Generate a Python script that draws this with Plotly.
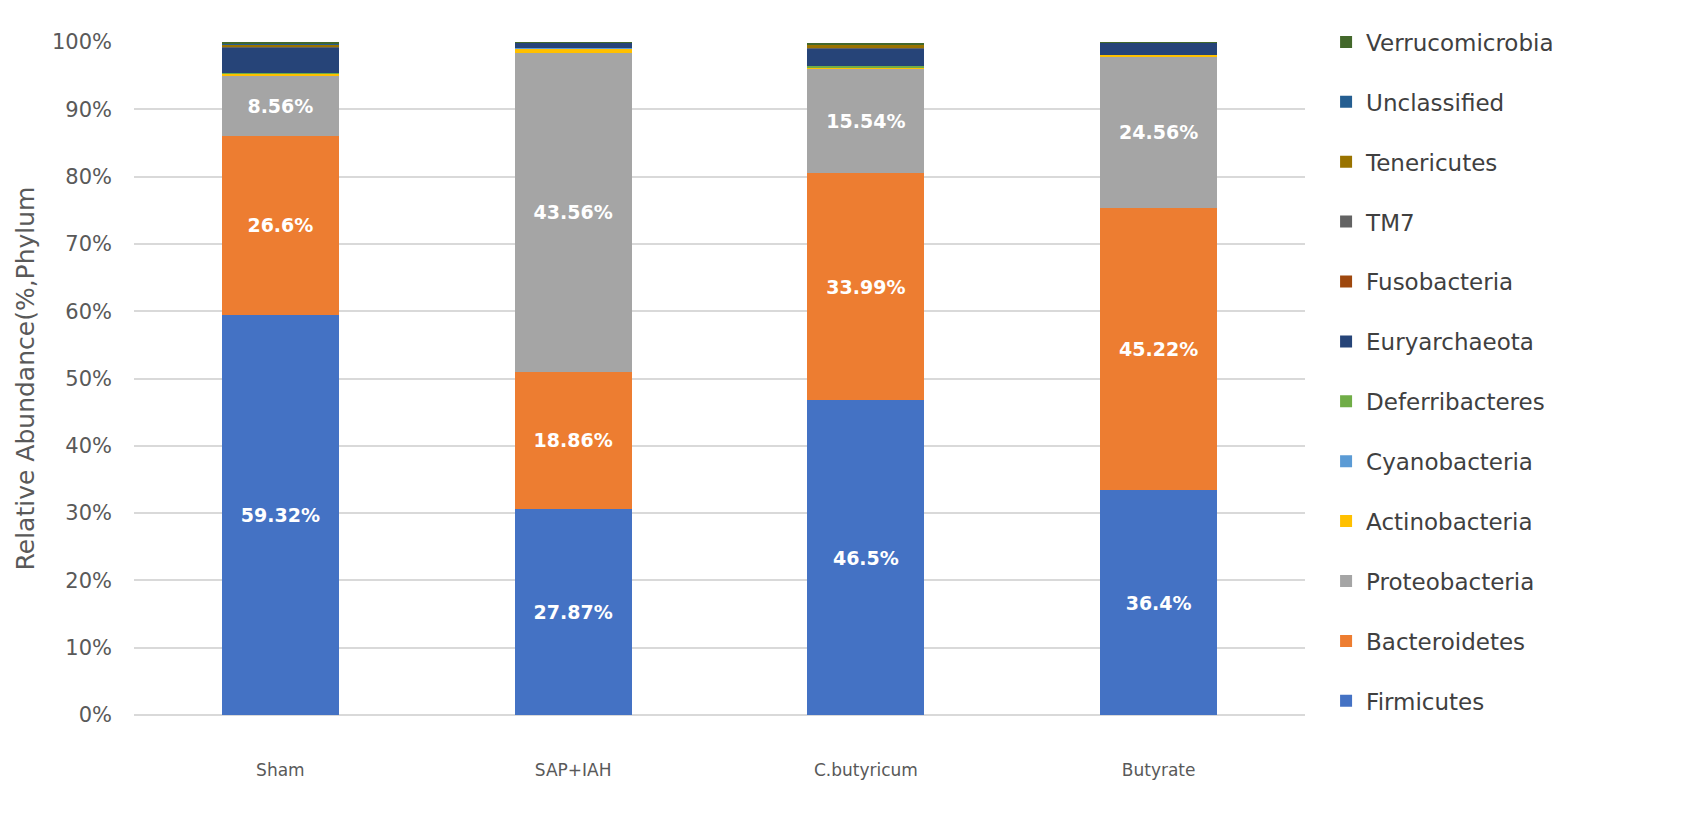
import plotly.graph_objects as go

# === KATEGORIEN ===
groups = ["Sham", "SAP+IAH", "C.butyricum", "Butyrate"]

# === PHYLA (von unten nach oben gestapelt) ===
phyla = ["Firmicutes", "Bacteroidetes", "Proteobacteria", "Actinobacteria",
         "Cyanobacteria", "Deferribacteres", "Euryarchaeota", "Fusobacteria",
         "TM7", "Tenericutes", "Unclassified", "Verrucomicrobia"]

# === WERTE (%) je Phylum, Reihenfolge wie groups ===
firmicutes = [59.4, 30.6, 46.8, 33.4]
bacteroidetes = [26.7, 20.4, 33.7, 42.0]
proteobacteria = [8.8, 47.4, 15.6, 22.4]
actinobacteria = [0.4, 0.7, 0.1, 0.3]
cyanobacteria = [0.05, 0.02, 0.05, 0.02]
deferribacteres = [0.1, 0.02, 0.15, 0.02]
euryarchaeota = [3.7, 0.75, 2.6, 1.75]
fusobacteria = [0.05, 0.01, 0.05, 0.01]
tm7 = [0.05, 0.01, 0.05, 0.01]
tenericutes = [0.4, 0.02, 0.5, 0.02]
unclassified = [0.05, 0.02, 0.05, 0.02]
verrucomicrobia = [0.3, 0.03, 0.15, 0.1]

# === BESCHRIFTUNGEN ===
firmicutes_lbl = ["59.32%", "27.87%", "46.5%", "36.4%"]
bacteroidetes_lbl = ["26.6%", "18.86%", "33.99%", "45.22%"]
proteobacteria_lbl = ["8.56%", "43.56%", "15.54%", "24.56%"]

values = [firmicutes, bacteroidetes, proteobacteria, actinobacteria,
          cyanobacteria, deferribacteres, euryarchaeota, fusobacteria,
          tm7, tenericutes, unclassified, verrucomicrobia]
labels = [firmicutes_lbl, bacteroidetes_lbl, proteobacteria_lbl] + [None] * 9

colors = ["#4472C4", "#ED7D31", "#A5A5A5", "#FFC000", "#5B9BD5", "#70AD47",
          "#264478", "#9E480E", "#636363", "#997300", "#255E91", "#43682B"]

FONT = "DejaVu Sans"

fig = go.Figure()
for i, (name, vals, lbl, col) in enumerate(zip(phyla, values, labels, colors)):
    fig.add_trace(go.Bar(
        x=groups,
        y=vals,
        name=name,
        legendgroup=name,
        legendrank=len(phyla) - i,  # oberste Schicht zuerst in der Legende
        marker=dict(color=col, line=dict(width=0)),
        text=lbl,
        texttemplate="%{text}" if lbl else None,
        textposition="inside" if lbl else "none",
        insidetextanchor="middle",
        textangle=0,
        constraintext="none",
        insidetextfont=dict(family=FONT, size=19, color="white", weight="bold"),
    ))

fig.update_layout(
    barmode="stack",
    bargap=0.6,
    width=1700,
    height=823,
    paper_bgcolor="white",
    plot_bgcolor="white",
    margin=dict(l=126, r=403, t=25, b=116),
    font=dict(family=FONT, color="#595959"),
    showlegend=True,
    legend=dict(
        traceorder="grouped",
        x=1.018,
        xanchor="left",
        y=1.032,
        yanchor="top",
        maxheight=815,
        tracegroupgap=27,
        itemwidth=30,
        font=dict(family=FONT, size=23, color="#404040"),
    ),
    xaxis=dict(
        showgrid=False,
        tickfont=dict(family=FONT, size=17, color="#595959"),
        ticklabelstandoff=43,
        showline=False,
    ),
    yaxis=dict(
        range=[0, 100],
        dtick=10,
        ticksuffix="%",
        showgrid=True,
        gridcolor="#D9D9D9",
        gridwidth=1.5,
        zeroline=True,
        zerolinecolor="#D9D9D9",
        zerolinewidth=1.5,
        tickfont=dict(family=FONT, size=21, color="#595959"),
        ticklabelstandoff=21,
        title=dict(text="Relative Abundance(%,Phylum",
                   font=dict(family=FONT, size=25, color="#595959"),
                   standoff=10),
    ),
)

fig.write_html("out.html")
